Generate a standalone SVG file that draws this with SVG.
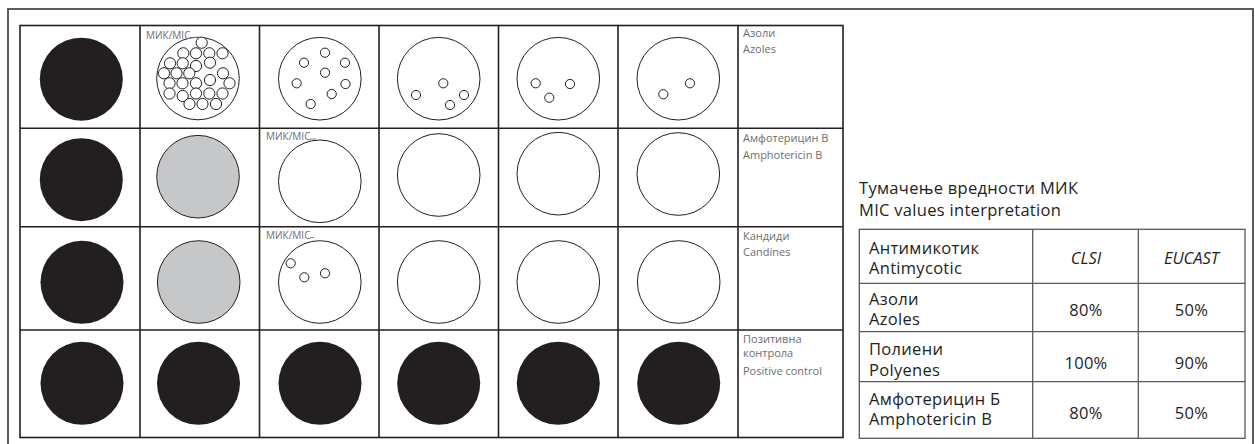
<svg xmlns="http://www.w3.org/2000/svg" width="1255" height="444" viewBox="0 0 1255 444">
<style>
.frame{fill:none;stroke:#4a4a4a;stroke-width:1.8}
.grid{fill:none;stroke:#231f20;stroke-width:1.6}
.solid{fill:#231f20;stroke:none}
.gray{fill:#c6c7c9;stroke:#231f20;stroke-width:1}
.open{fill:#fff;stroke:#231f20;stroke-width:1}
.dot{fill:#fff;stroke:#231f20;stroke-width:1}
.mic{font-family:"Open Sans","Noto Sans",sans-serif;font-size:10px;fill:#6d6e71}
.lead{stroke:#6d6e71;stroke-width:0.8}
.lbl{font-family:"Open Sans","Noto Sans",sans-serif;font-size:11px;fill:#6d6e71}
.title{font-family:"Open Sans","Noto Sans",sans-serif;font-size:16.5px;letter-spacing:0.3px;fill:#231f20}
.tt{font-family:"Open Sans","Noto Sans",sans-serif;font-size:16.5px;letter-spacing:0.3px;fill:#231f20}
.ti{font-family:"Open Sans","Noto Sans",sans-serif;font-size:16.5px;font-style:italic;fill:#231f20}
.tline{fill:none;stroke:#58595b;stroke-width:1.3}
</style>
<rect class="frame" x="8" y="9" width="1245" height="450"/>
<g id="plate-grid">
<rect class="grid" x="20" y="25.5" width="823" height="412"/>
<line class="grid" x1="140" y1="25.5" x2="140" y2="437.5"/>
<line class="grid" x1="259.5" y1="25.5" x2="259.5" y2="437.5"/>
<line class="grid" x1="379" y1="25.5" x2="379" y2="437.5"/>
<line class="grid" x1="498.5" y1="25.5" x2="498.5" y2="437.5"/>
<line class="grid" x1="618" y1="25.5" x2="618" y2="437.5"/>
<line class="grid" x1="738" y1="25.5" x2="738" y2="437.5"/>
<line class="grid" x1="20" y1="128.3" x2="843" y2="128.3"/>
<line class="grid" x1="20" y1="226.7" x2="843" y2="226.7"/>
<line class="grid" x1="20" y1="330" x2="843" y2="330"/>
</g>
<g id="row-azoles">
<circle class="solid" cx="81.3" cy="79.2" r="41.5"/>
<g id="well-azoles-2">
<circle class="open" cx="198" cy="78.5" r="41.3"/>
<circle class="dot" cx="201.7" cy="42.7" r="5.6"/>
<circle class="dot" cx="183.3" cy="53.3" r="5.6"/>
<circle class="dot" cx="196" cy="53.3" r="5.6"/>
<circle class="dot" cx="209.3" cy="53.3" r="5.6"/>
<circle class="dot" cx="222.5" cy="53.3" r="5.6"/>
<circle class="dot" cx="170" cy="63.3" r="5.6"/>
<circle class="dot" cx="182.7" cy="63.3" r="5.6"/>
<circle class="dot" cx="196" cy="66" r="5.6"/>
<circle class="dot" cx="210" cy="62.7" r="5.6"/>
<circle class="dot" cx="164" cy="73.3" r="5.6"/>
<circle class="dot" cx="176.5" cy="73.3" r="5.6"/>
<circle class="dot" cx="189.3" cy="73.3" r="5.6"/>
<circle class="dot" cx="223" cy="73.3" r="5.6"/>
<circle class="dot" cx="169.5" cy="83.3" r="5.6"/>
<circle class="dot" cx="182.5" cy="83.3" r="5.6"/>
<circle class="dot" cx="196" cy="83.3" r="5.6"/>
<circle class="dot" cx="210" cy="80" r="5.6"/>
<circle class="dot" cx="229.5" cy="83.3" r="5.6"/>
<circle class="dot" cx="169.5" cy="93.5" r="5.6"/>
<circle class="dot" cx="182.7" cy="96" r="5.6"/>
<circle class="dot" cx="196" cy="93.5" r="5.6"/>
<circle class="dot" cx="209.3" cy="93.5" r="5.6"/>
<circle class="dot" cx="222.5" cy="93.5" r="5.6"/>
<circle class="dot" cx="189.5" cy="104" r="5.6"/>
<circle class="dot" cx="202.5" cy="104" r="5.6"/>
<circle class="dot" cx="216" cy="104" r="5.6"/>
<text class="mic" x="146" y="38.5">МИК/MIC</text>
<line class="lead" x1="190" y1="37.5" x2="200" y2="37.5"/>
</g>
<g id="well-azoles-3">
<circle class="open" cx="319.8" cy="78.7" r="41.3"/>
<circle class="dot" cx="325" cy="52.7" r="4.6"/>
<circle class="dot" cx="304" cy="62.7" r="4.6"/>
<circle class="dot" cx="345" cy="62.7" r="4.6"/>
<circle class="dot" cx="325" cy="72.7" r="4.6"/>
<circle class="dot" cx="296.7" cy="83.3" r="4.6"/>
<circle class="dot" cx="345.5" cy="84" r="4.6"/>
<circle class="dot" cx="331.7" cy="94" r="4.6"/>
<circle class="dot" cx="310.7" cy="104" r="4.6"/>
</g>
<g id="well-azoles-4">
<circle class="open" cx="438.7" cy="78.7" r="41.3"/>
<circle class="dot" cx="443.3" cy="83.3" r="4.6"/>
<circle class="dot" cx="416" cy="95" r="4.6"/>
<circle class="dot" cx="464" cy="95" r="4.6"/>
<circle class="dot" cx="450" cy="105" r="4.6"/>
</g>
<g id="well-azoles-5">
<circle class="open" cx="558.3" cy="78.7" r="41.3"/>
<circle class="dot" cx="535.7" cy="83.3" r="4.6"/>
<circle class="dot" cx="570" cy="84" r="4.6"/>
<circle class="dot" cx="549.3" cy="97.7" r="4.6"/>
</g>
<g id="well-azoles-6">
<circle class="open" cx="678.3" cy="78.7" r="41.3"/>
<circle class="dot" cx="690" cy="83.3" r="4.6"/>
<circle class="dot" cx="663.3" cy="94.3" r="4.6"/>
</g>
<text class="lbl" x="743" y="37">Азоли</text>
<text class="lbl" x="743" y="53">Azoles</text>
</g>
<g id="row-amphotericin">
<circle class="solid" cx="81.3" cy="179.7" r="41.5"/>
<circle class="gray" cx="198" cy="176.7" r="41.3"/>
<g id="well-ampho-3">
<circle class="open" cx="319.8" cy="181.3" r="41.3"/>
<text class="mic" x="266" y="140">МИК/MIC</text>
<line class="lead" x1="310" y1="139" x2="316" y2="139"/>
</g>
<circle class="open" cx="438.7" cy="175" r="41.3"/>
<circle class="open" cx="558.3" cy="173.7" r="41.3"/>
<circle class="open" cx="678.3" cy="174" r="41.3"/>
<text class="lbl" x="743" y="142">Амфотерицин B</text>
<text class="lbl" x="743" y="158.5">Amphotericin B</text>
</g>
<g id="row-candines">
<circle class="solid" cx="82" cy="282.3" r="41.5"/>
<circle class="gray" cx="198.7" cy="282" r="41.3"/>
<g id="well-cand-3">
<circle class="open" cx="319.8" cy="282" r="41.3"/>
<circle class="dot" cx="290.7" cy="263.3" r="4.6"/>
<circle class="dot" cx="304.3" cy="277.3" r="4.6"/>
<circle class="dot" cx="325" cy="273.3" r="4.6"/>
<text class="mic" x="266" y="238.5">МИК/MIC</text>
<line class="lead" x1="310" y1="237.5" x2="314" y2="237.5"/>
</g>
<circle class="open" cx="438.7" cy="282" r="41.3"/>
<circle class="open" cx="558.3" cy="282" r="41.3"/>
<circle class="open" cx="678.7" cy="282" r="41.3"/>
<text class="lbl" x="743" y="239.5">Кандиди</text>
<text class="lbl" x="743" y="256">Candines</text>
</g>
<g id="row-positive-control">
<circle class="solid" cx="82" cy="383.3" r="41.5"/>
<circle class="solid" cx="198.5" cy="383.3" r="41.5"/>
<circle class="solid" cx="320" cy="383.3" r="41.5"/>
<circle class="solid" cx="438.7" cy="383.3" r="41.5"/>
<circle class="solid" cx="558.3" cy="383.3" r="41.5"/>
<circle class="solid" cx="678.7" cy="383.3" r="41.5"/>
<text class="lbl" x="743" y="342.5">Позитивна</text>
<text class="lbl" x="743" y="357">контрола</text>
<text class="lbl" x="743" y="374.5">Positive control</text>
</g>
<g id="interpretation-title">
<text class="title" x="859" y="194">Тумачење вредности МИК</text>
<text class="title" x="859" y="215.5">MIC values interpretation</text>
</g>
<g id="interpretation-table">
<rect class="tline" x="859.3" y="229.3" width="385.7" height="209"/>
<line class="tline" x1="1032.7" y1="229.3" x2="1032.7" y2="438.3"/>
<line class="tline" x1="1138.3" y1="229.3" x2="1138.3" y2="438.3"/>
<line class="tline" x1="859.3" y1="283.3" x2="1245" y2="283.3"/>
<line class="tline" x1="859.3" y1="331.7" x2="1245" y2="331.7"/>
<line class="tline" x1="859.3" y1="381.7" x2="1245" y2="381.7"/>
<text class="tt" x="869" y="253.5">Антимикотик</text>
<text class="tt" x="869" y="274">Antimycotic</text>
<text class="ti" x="1086" y="264" text-anchor="middle">CLSI</text>
<text class="ti" x="1191.5" y="264" text-anchor="middle">EUCAST</text>
<text class="tt" x="869" y="304.5">Азоли</text>
<text class="tt" x="869" y="325">Azoles</text>
<text class="tt" x="1086" y="316" text-anchor="middle">80%</text>
<text class="tt" x="1191.5" y="316" text-anchor="middle">50%</text>
<text class="tt" x="869" y="355">Полиени</text>
<text class="tt" x="869" y="376">Polyenes</text>
<text class="tt" x="1086" y="368.5" text-anchor="middle">100%</text>
<text class="tt" x="1191.5" y="368.5" text-anchor="middle">90%</text>
<text class="tt" x="869" y="404.5">Амфотерицин Б</text>
<text class="tt" x="869" y="425">Amphotericin B</text>
<text class="tt" x="1086" y="418.5" text-anchor="middle">80%</text>
<text class="tt" x="1191.5" y="418.5" text-anchor="middle">50%</text>
</g>
</svg>
